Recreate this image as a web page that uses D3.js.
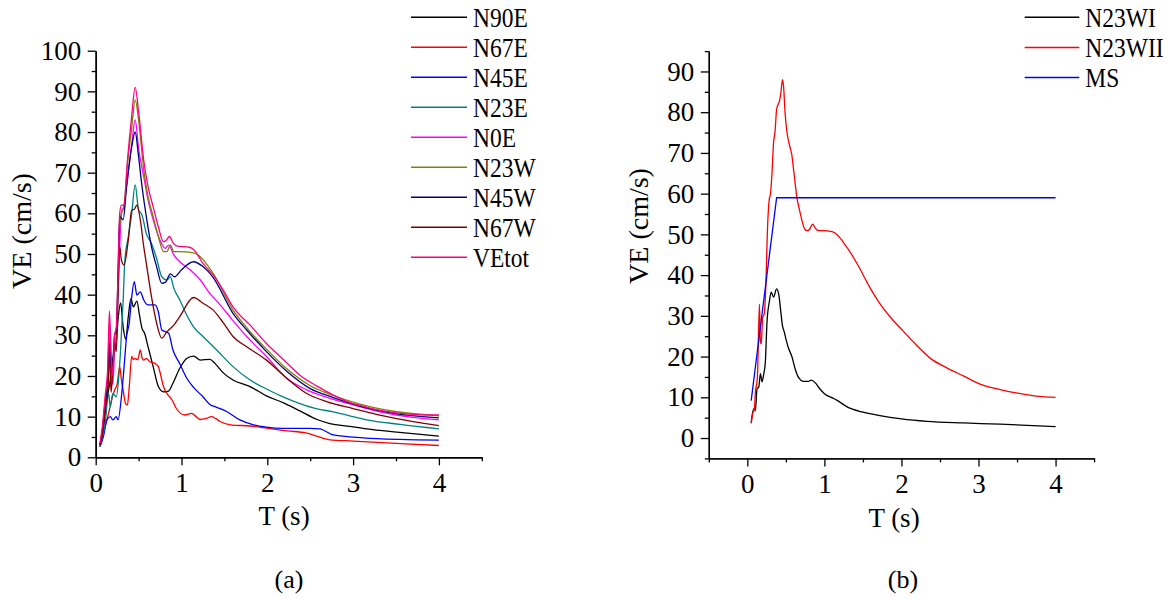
<!DOCTYPE html>
<html><head><meta charset="utf-8">
<script src="https://cdn.jsdelivr.net/npm/d3@7"></script>
<style>
body{margin:0;background:#fff}
text{font-family:"Liberation Serif","Times New Roman",serif;fill:#000}
</style>
</head><body><svg id="c" width="1172" height="601"></svg>
<script>
// ---------- Panel (a) data: [T (s), VE (cm/s)] ----------
const namesA = ["N90E","N67E","N45E","N23E","N0E","N23W","N45W","N67W","VEtot"];
const colorsA = ["#000000","#ff0000","#0000ff","#008080","#ff00ff","#808000","#000080","#800000","#ff0080"];
const N90E = [[0.05,3],[0.09,6.7],[0.12,12.4],[0.15,16.5],[0.17,19],[0.2,23.9],[0.24,28.8],[0.26,33.8],[0.29,38],[0.32,32],[0.35,29],[0.38,34.6],[0.41,39],[0.44,37],[0.48,38.4],[0.51,35],[0.54,31.7],[0.57,30.5],[0.61,27.2],[0.67,22.3],[0.73,17.4],[0.79,16.1],[0.85,16.3],[0.9,18.2],[0.98,21.9],[1.06,24.3],[1.14,24.9],[1.22,23.9],[1.33,24.1],[1.39,23.1],[1.49,20.7],[1.6,19],[1.8,17.4],[1.99,15.1],[2.19,13.4],[2.38,11.4],[2.58,9.3],[2.73,8.3],[2.96,7.6],[3.16,7.0],[3.51,6.2],[4,5.2]];
const N67E = [[0.05,2.6],[0.08,5],[0.11,7.5],[0.15,10.8],[0.19,14.5],[0.22,16.5],[0.25,18],[0.28,22.3],[0.3,19],[0.32,16.5],[0.35,13.1],[0.37,12.9],[0.39,17],[0.42,24.8],[0.44,24],[0.46,24.3],[0.49,24],[0.52,26.4],[0.54,24.5],[0.56,23.9],[0.59,24.3],[0.63,23.5],[0.69,23.1],[0.73,22.3],[0.76,20],[0.79,17.4],[0.83,15.7],[0.89,14.1],[0.94,12],[1.04,10.4],[1.12,10.8],[1.17,10],[1.22,9.3],[1.28,9.5],[1.35,10],[1.4,9.5],[1.45,8.8],[1.57,8.0],[1.8,7.7],[1.99,7.2],[2.23,6.5],[2.45,6.0],[2.6,5.0],[2.73,4.3],[3.0,4.0],[3.5,3.4],[4,2.9]];
const N45E = [[0.05,2.6],[0.09,5.1],[0.13,9.2],[0.17,10],[0.2,9.2],[0.24,10],[0.26,9.2],[0.3,14.9],[0.33,22],[0.36,29.7],[0.39,32.9],[0.42,39.5],[0.45,43.2],[0.48,39.9],[0.52,40.7],[0.56,38.7],[0.61,37.5],[0.69,37.5],[0.73,35.8],[0.77,31.3],[0.81,30.9],[0.85,30.5],[0.9,26.4],[0.98,23],[1.06,19.5],[1.14,17.2],[1.25,14.9],[1.33,13],[1.41,12.3],[1.53,11.2],[1.68,9.2],[1.84,8.0],[1.99,7.4],[2.19,7.1],[2.5,7.1],[2.61,7.0],[2.77,5.5],[3.12,4.8],[3.55,4.4],[4,4.2]];
const N23E = [[0.05,2.6],[0.08,5],[0.11,8.3],[0.15,15.7],[0.17,12.4],[0.2,15.7],[0.24,14.9],[0.27,20],[0.29,26.4],[0.32,38.7],[0.34,48.5],[0.38,54.3],[0.42,60],[0.46,67],[0.5,60.8],[0.54,59.6],[0.59,55],[0.65,52.6],[0.71,48.9],[0.77,44.4],[0.83,43.6],[0.87,44.4],[0.91,41.6],[0.98,38.7],[1.06,35],[1.14,32.1],[1.25,29.7],[1.41,26.4],[1.6,22.3],[1.8,19],[1.99,16.8],[2.19,14.8],[2.38,13.2],[2.58,11.9],[2.77,11.2],[2.96,10.2],[3.16,9.2],[3.55,8.1],[4,7.0]];
const N0E = [[0.05,3],[0.08,7],[0.11,13],[0.14,19],[0.16,30],[0.18,20],[0.2,18],[0.22,26],[0.24,28],[0.26,40],[0.28,52],[0.3,60],[0.33,62],[0.36,66.6],[0.42,77],[0.46,83],[0.5,76],[0.56,69],[0.61,63.3],[0.67,58.4],[0.75,53.4],[0.81,51.4],[0.85,52.2],[0.91,49.8],[0.98,48.1],[1.1,46.1],[1.22,43.6],[1.33,40.3],[1.45,37.5],[1.6,33.6],[1.76,29.7],[1.99,24.8],[2.23,19.4],[2.46,16.6],[2.73,14.5],[3.0,12.9],[3.31,11.2],[3.7,9.8],[4,9.2]];
const N23W = [[0.05,3],[0.08,7],[0.11,14],[0.14,20],[0.16,33],[0.18,24],[0.2,22],[0.22,28],[0.24,30],[0.26,42],[0.28,57],[0.3,60],[0.33,61.6],[0.36,69.8],[0.42,81],[0.46,87.9],[0.5,83],[0.56,70.7],[0.61,64.1],[0.67,59.2],[0.73,54.3],[0.79,50.6],[0.83,50.6],[0.87,52.2],[0.91,50.6],[0.98,50.6],[1.14,50.3],[1.37,45.2],[1.6,36.2],[1.76,31.9],[1.99,26.6],[2.23,21.7],[2.5,17.6],[2.77,15.2],[3.08,13.1],[3.51,11.2],[4,10.2]];
const N45W = [[0.05,3],[0.08,7],[0.11,13],[0.14,18],[0.16,28],[0.18,22],[0.2,24],[0.22,30],[0.24,31],[0.26,45],[0.28,59.2],[0.32,58.4],[0.36,66.6],[0.42,76.4],[0.46,80],[0.5,73.9],[0.54,66.6],[0.59,59.2],[0.65,51.8],[0.71,46.9],[0.77,42.8],[0.81,43],[0.87,45.1],[0.92,44.4],[1.0,46.1],[1.14,48.1],[1.25,46.9],[1.37,44.2],[1.6,35.4],[1.76,31.3],[1.99,26],[2.23,21.1],[2.5,16.9],[2.77,14.7],[3.08,12.6],[3.51,10.7],[4,9.7]];
const N67W = [[0.05,3],[0.08,6],[0.11,12],[0.14,16],[0.16,25],[0.18,16],[0.2,22],[0.22,28],[0.24,26],[0.26,40],[0.28,51.8],[0.3,48.5],[0.33,47.3],[0.38,53.4],[0.42,60.8],[0.45,61],[0.48,62],[0.52,58.4],[0.56,51.8],[0.59,47.7],[0.65,39.5],[0.71,33],[0.77,29.3],[0.83,30.9],[0.91,32.5],[0.98,34.6],[1.14,39.3],[1.25,37.9],[1.37,36.2],[1.49,33],[1.6,29.7],[1.76,27.2],[1.99,23.9],[2.23,19.4],[2.46,15.7],[2.69,13.7],[3.0,12.0],[3.31,10.4],[3.7,8.8],[4,7.8]];
const VEtot = [[0.05,3.5],[0.08,8],[0.11,15],[0.14,22],[0.16,36],[0.18,25],[0.2,20],[0.22,30],[0.24,32],[0.26,45],[0.28,60],[0.3,62],[0.33,62],[0.37,73],[0.42,84],[0.46,91],[0.5,85],[0.56,73],[0.61,66.6],[0.67,61.6],[0.73,56.7],[0.79,53],[0.82,53.3],[0.86,54.3],[0.9,52.8],[0.94,52],[1.1,51.6],[1.14,51.1],[1.25,47.7],[1.37,44.8],[1.49,41],[1.6,37],[1.8,32.5],[1.99,28],[2.19,24],[2.38,20.2],[2.58,17.5],[2.77,15.3],[2.96,13.5],[3.16,12.3],[3.35,11.4],[3.55,10.8],[3.74,10.5],[4,10.4]];

// ---------- Panel (b) data ----------
const namesB = ["N23WI","N23WII","MS"];
const colorsB = ["#000000","#ff0000","#0000ff"];
const N23WI = [[0.05,3.8],[0.083,7.2],[0.105,6.8],[0.126,12.1],[0.148,12.5],[0.17,15.8],[0.19,13.8],[0.21,15.4],[0.234,18.7],[0.255,28.4],[0.285,33.4],[0.31,35.8],[0.34,34.6],[0.38,36.6],[0.41,35],[0.435,30.9],[0.456,27.6],[0.48,26],[0.5,24.4],[0.53,22.3],[0.58,19.9],[0.62,17],[0.66,15],[0.73,13.9],[0.79,13.9],[0.83,14.2],[0.88,13.6],[0.94,12.1],[1.0,10.9],[1.11,9.8],[1.16,9.3],[1.3,7.6],[1.49,6.4],[1.72,5.5],[2.0,4.7],[2.33,4.1],[2.81,3.7],[3.28,3.4],[4,2.8]];
const N23WII = [[0.05,3.6],[0.075,6.4],[0.09,6.8],[0.105,11.3],[0.13,14.6],[0.157,32.9],[0.17,23.5],[0.18,23.1],[0.2,29.6],[0.22,30.5],[0.24,37.4],[0.26,50.5],[0.285,58.7],[0.3,59.9],[0.32,65],[0.34,72.5],[0.36,75.3],[0.38,80.7],[0.42,83],[0.435,84.7],[0.456,88],[0.47,86.4],[0.49,79.8],[0.51,75.7],[0.55,71.7],[0.58,69.2],[0.6,65.9],[0.62,62.7],[0.64,59.4],[0.675,56.2],[0.705,53.7],[0.735,51.7],[0.77,50.9],[0.8,51.1],[0.85,52.5],[0.875,51.7],[0.92,50.9],[0.98,50.9],[1.11,50.6],[1.3,46.6],[1.44,42.3],[1.58,37.3],[1.72,33],[1.86,29.6],[2.0,26.7],[2.19,22.9],[2.38,19.5],[2.57,17.4],[2.81,15.2],[3.04,13.1],[3.28,11.9],[3.51,11],[3.75,10.3],[4,10.0]];
const MS = [[0.05,9.2],[0.38,59],[4,59]];

const seriesA = [N90E,N67E,N45E,N23E,N0E,N23W,N45W,N67W,VEtot];
const seriesB = [N23WI,N23WII,MS];

const svg = d3.select('#c');
svg.append('rect').attr('width',1172).attr('height',601).attr('fill','#fff');
const FF = '"Liberation Serif","Times New Roman",serif';

function panel(o){
  const x = d3.scaleLinear().domain(o.xDomain).range([o.left, o.right]);
  const y = d3.scaleLinear().domain(o.yDomain).range([o.bottom, o.top]);
  const g = svg.append('g');
  const styleAxis = sel => {
    sel.selectAll('path.domain').attr('stroke','#000').attr('stroke-width',1.4);
    sel.selectAll('line').attr('stroke','#000').attr('stroke-width',1.3);
    sel.selectAll('text').attr('font-size',27).attr('font-family',FF).attr('fill','#000');
  };
  g.append('g').attr('transform',`translate(0,${o.bottom})`)
    .call(d3.axisBottom(x).tickValues(o.xMinor).tickSize(4).tickFormat('').tickSizeOuter(0)).call(styleAxis);
  g.append('g').attr('transform',`translate(0,${o.bottom})`)
    .call(d3.axisBottom(x).tickValues(o.xMajor).tickSize(8).tickPadding(7.5).tickFormat(d3.format('d')).tickSizeOuter(0)).call(styleAxis);
  g.append('g').attr('transform',`translate(${o.left},0)`)
    .call(d3.axisLeft(y).tickValues(o.yMinor).tickSize(4).tickFormat('').tickSizeOuter(0)).call(styleAxis);
  g.append('g').attr('transform',`translate(${o.left},0)`)
    .call(d3.axisLeft(y).tickValues(o.yMajor).tickSize(8).tickPadding(6.5).tickFormat(d3.format('d')).tickSizeOuter(0)).call(styleAxis);

  const line = d3.line().x(d=>x(d[0])).y(d=>y(d[1])).curve(d3.curveMonotoneX);
  const lineLin = d3.line().x(d=>x(d[0])).y(d=>y(d[1]));
  o.series.forEach((s,i)=>{
    g.append('path').datum(s).attr('fill','none').attr('stroke',o.colors[i])
      .attr('stroke-width',1.3).attr('stroke-linejoin','round')
      .attr('d', s.length<=3 ? lineLin(s) : line(s));
  });
  // axis titles
  g.append('text').attr('transform',`translate(${o.yTitleX},${o.yTitleY}) rotate(-90)`)
    .attr('text-anchor','middle').attr('font-size',28).text('VE (cm/s)');
  g.append('text').attr('x',o.xTitleX).attr('y',o.xTitleY)
    .attr('text-anchor','middle').attr('font-size',27).text('T (s)');
  g.append('text').attr('x',o.capX).attr('y',588)
    .attr('text-anchor','middle').attr('font-size',26).text(o.caption);
  // legend
  const lg = g.append('g');
  o.names.forEach((n,i)=>{
    const yy = o.legY + i*o.legStep;
    lg.append('line').attr('x1',o.legX1).attr('x2',o.legX2).attr('y1',yy).attr('y2',yy)
      .attr('stroke',o.colors[i]).attr('stroke-width',1.5);
    lg.append('text').attr('transform',`translate(${o.legX2+6},${yy+9.3}) scale(0.87,1)`)
      .attr('font-size',27).text(n);
  });
}

panel({
  xDomain:[0,4.5], yDomain:[0,100], left:95.7, right:481.8, bottom:457.3, top:50.7,
  xMajor:[0,1,2,3,4], xMinor:d3.range(0.5,4.6,1),
  yMajor:d3.range(0,101,10), yMinor:d3.range(5,100,10),
  series:seriesA, colors:colorsA, names:namesA,
  yTitleX:30.5, yTitleY:231, xTitleX:284, xTitleY:525, capX:289, caption:'(a)',
  legX1:411, legX2:467, legY:17.3, legStep:30
});
panel({
  xDomain:[-0.5,4.5], yDomain:[-5,95], left:708.8, right:1094.1, bottom:458.4, top:51.1,
  xMajor:[0,1,2,3,4], xMinor:d3.range(-0.5,4.6,1),
  yMajor:d3.range(0,91,10), yMinor:d3.range(-5,96,10),
  series:seriesB, colors:colorsB, names:namesB,
  yTitleX:648, yTitleY:226, xTitleX:894, xTitleY:527, capX:903, caption:'(b)',
  legX1:1024.7, legX2:1079.3, legY:17.2, legStep:30.2
});
</script></body></html>
